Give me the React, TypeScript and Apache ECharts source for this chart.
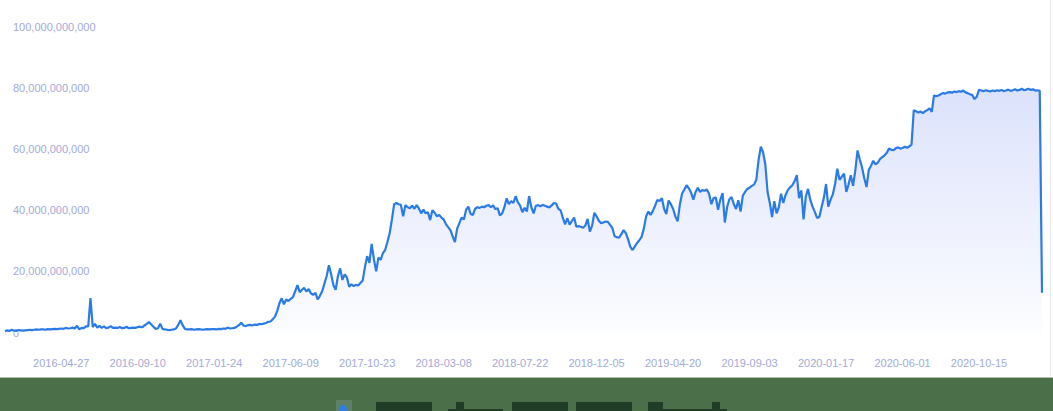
import React, { useEffect, useRef } from 'react';
import * as echarts from 'echarts';

// Daily series sampled every 4 days, starting 2016-01-18 (values in billions)
const START_DATE = '2016-01-18';
const STEP_DAYS = 4;
const LABEL_FIRST = 25; // 2016-04-27
const LABEL_EVERY = 34; // 136 days

const Y_MAX = 100e9;
const Y_STEP = 20e9;

const vals2016a = [0.4, 0.7, 0.5, 0.9, 0.6, 0.5, 0.8, 0.7, 0.6, 0.7, 0.8, 0.9, 0.8, 0.9, 1.0, 0.9, 1.0, 1.0, 0.9, 1.1, 1.0, 1.1, 1.2, 1.1, 1.2];
const vals2016b = [1.3, 1.2, 1.5, 1.3, 1.4, 1.6, 1.3, 2.2, 1.0, 1.5, 1.4, 2.0, 2.0, 11.3, 1.8, 2.8, 1.6, 2.2, 1.5, 2.0, 1.4, 1.6, 2.1, 1.5, 1.6, 1.5, 1.8, 1.4, 1.5, 1.9, 1.4, 1.5, 1.6, 1.5];
const vals2016c = [1.8, 1.9, 1.7, 2.3, 2.8, 3.4, 2.6, 1.9, 1.2, 1.4, 2.9, 1.2, 1.0, 0.9, 0.8, 0.9, 1.0, 1.3, 2.5, 4.0, 2.3, 1.2, 1.0, 1.0, 1.1, 0.9, 1.0, 1.1, 1.0, 0.9, 1.0, 1.1, 1.0, 1.1];
const vals2017a = [1.1, 1.0, 1.2, 1.1, 1.3, 1.2, 1.6, 1.3, 1.4, 1.5, 1.9, 2.4, 3.2, 2.3, 2.1, 2.4, 2.5, 2.3, 2.6, 2.5, 2.8, 2.7, 2.9, 3.1, 3.5, 3.6, 4.3, 5.2, 7.0, 9.6, 11.2, 9.2, 10.8, 10.3];
const vals2017b = [11.0, 11.6, 13.5, 15.5, 13.2, 14.0, 14.6, 13.4, 14.2, 12.8, 12.3, 13.0, 10.8, 12.0, 13.5, 16.0, 18.5, 22.0, 19.0, 15.5, 14.0, 18.5, 21.0, 17.2, 19.0, 18.0, 15.0, 15.8, 15.2, 15.6, 15.4, 16.2, 17.0, 21.4];
const vals2017c = [25.0, 22.8, 29.0, 24.0, 20.0, 24.5, 23.8, 26.0, 27.0, 29.6, 32.5, 37.0, 42.0, 42.4, 42.0, 41.8, 38.0, 41.7, 41.0, 40.7, 41.5, 40.5, 41.7, 40.6, 39.0, 40.2, 39.0, 39.4, 36.8, 40.0, 39.2, 38.0, 38.5, 37.6];
const vals2018a = [37.0, 35.5, 34.5, 33.5, 31.5, 29.6, 34.0, 35.8, 37.6, 37.0, 40.2, 41.2, 38.8, 38.5, 40.5, 41.0, 40.8, 41.2, 41.0, 41.5, 41.7, 41.0, 41.6, 40.4, 40.7, 38.3, 39.0, 41.0, 43.9, 42.0, 43.0, 42.4, 44.6, 42.6];
const vals2018b = [41.5, 39.4, 40.8, 39.6, 44.6, 41.0, 39.0, 41.5, 41.7, 41.3, 41.8, 41.5, 41.2, 40.9, 41.6, 42.4, 42.2, 40.5, 40.0, 37.5, 35.4, 37.4, 35.3, 36.5, 37.6, 34.6, 34.8, 34.6, 34.3, 35.0, 37.2, 33.0, 35.0, 39.2];
const vals2018c = [38.0, 36.6, 35.8, 36.0, 36.3, 36.2, 35.2, 34.2, 31.5, 31.2, 31.0, 32.2, 33.5, 32.5, 30.5, 28.0, 27.0, 28.2, 29.3, 30.2, 31.3, 34.0, 38.0, 39.6, 38.5, 39.8, 41.5, 43.4, 43.0, 44.0, 40.5, 38.8, 43.2, 42.0];
const vals2019a = [40.5, 38.0, 36.4, 41.8, 45.5, 46.8, 48.2, 47.2, 45.8, 43.5, 46.0, 47.4, 46.0, 46.6, 46.4, 46.8, 45.4, 42.0, 44.0, 44.2, 40.2, 43.5, 45.6, 36.0, 41.0, 43.6, 44.3, 42.0, 40.4, 43.3, 39.6, 44.8, 46.0, 47.0];
const vals2019b = [47.4, 48.0, 48.4, 50.0, 56.5, 60.8, 59.0, 55.0, 46.0, 42.4, 37.8, 43.0, 39.0, 41.0, 45.4, 42.4, 45.0, 46.6, 47.5, 48.2, 49.5, 51.5, 44.0, 46.5, 37.0, 44.5, 47.0, 43.4, 41.2, 39.5, 37.5, 37.8, 41.0, 44.0];
const vals2020a = [48.6, 41.2, 43.5, 45.2, 48.6, 53.6, 50.0, 51.0, 52.0, 46.0, 48.5, 51.5, 48.0, 53.0, 59.6, 56.6, 54.0, 50.5, 47.6, 53.2, 54.6, 56.2, 55.0, 55.6, 56.8, 57.4, 58.0, 58.8, 60.2, 59.8, 59.7, 60.3, 60.6, 60.2];
const vals2020b = [60.4, 60.8, 60.5, 60.9, 61.5, 72.8, 72.4, 72.0, 72.3, 71.8, 72.4, 72.8, 73.4, 72.2, 77.6, 77.3, 77.6, 78.0, 78.4, 78.2, 78.6, 78.7, 78.5, 78.9, 78.7, 79.0, 78.8, 79.2, 78.6, 78.3, 78.0, 77.7, 76.4, 77.2];
const vals2020c = [79.4, 79.2, 79.0, 79.3, 79.1, 78.9, 79.2, 79.0, 79.3, 79.1, 79.4, 79.0, 79.2, 79.5, 79.1, 79.3, 79.6, 79.2, 79.4, 79.8, 79.3, 79.5, 79.8, 79.4, 79.6, 79.2, 79.3, 79.1, 13.0];

const valuesBillions = [
  ...vals2016a, ...vals2016b, ...vals2016c,
  ...vals2017a, ...vals2017b, ...vals2017c,
  ...vals2018a, ...vals2018b, ...vals2018c,
  ...vals2019a, ...vals2019b,
  ...vals2020a, ...vals2020b, ...vals2020c,
];

function makeDates(n: number): string[] {
  const [y, m, d] = START_DATE.split('-').map(Number);
  const t0 = Date.UTC(y, m - 1, d);
  const out: string[] = [];
  for (let i = 0; i < n; i++) {
    out.push(new Date(t0 + i * STEP_DAYS * 86400000).toISOString().slice(0, 10));
  }
  return out;
}

export default function App() {
  const ref = useRef<HTMLDivElement>(null);

  useEffect(() => {
    if (!ref.current) return;
    const chart = echarts.init(ref.current, undefined, { renderer: 'svg' });
    const dates = makeDates(valuesBillions.length);
    const data = valuesBillions.map((v) => Math.round(v * 1e9));
    const labelColor = '#a3aad7';
    const font = "'Liberation Sans', Arial, sans-serif";

    chart.setOption({
      animation: false,
      backgroundColor: '#ffffff',
      grid: { left: 5, right: 11, top: 27, bottom: 78.5 },
      xAxis: {
        type: 'category',
        data: dates,
        boundaryGap: false,
        axisLine: { show: false },
        axisTick: { show: false },
        splitLine: { show: false },
        axisLabel: {
          color: labelColor,
          fontSize: 11,
          fontFamily: font,
          margin: 25,
          interval: (idx: number) => idx >= LABEL_FIRST && (idx - LABEL_FIRST) % LABEL_EVERY === 0,
        },
      },
      yAxis: {
        type: 'value',
        min: 0,
        max: Y_MAX,
        interval: Y_STEP,
        axisLine: { show: false },
        axisTick: { show: false },
        splitLine: { show: false },
        axisLabel: {
          inside: true,
          color: labelColor,
          fontSize: 11,
          fontFamily: font,
          formatter: (v: number) => v.toLocaleString('en-US'),
        },
      },
      series: [
        {
          type: 'line',
          data,
          showSymbol: false,
          symbol: 'none',
          lineStyle: { color: '#2b7be6', width: 2.2 },
          areaStyle: {
            color: new echarts.graphic.LinearGradient(0, 0, 0, 1, [
              { offset: 0, color: '#cdd6fa' },
              { offset: 1, color: '#fbfcff' },
            ]),
          },
          z: 2,
        },
      ],
      graphic: [
        {
          type: 'line',
          shape: { x1: 1050.5, y1: 0, x2: 1050.5, y2: 378 },
          style: { stroke: '#e8e8ee', lineWidth: 1 },
        },
        {
          type: 'rect',
          shape: { x: 0, y: 378, width: 1053, height: 33 },
          style: { fill: '#4b7049' },
          z: 10,
        },
        {
          type: 'rect',
          shape: { x: 0, y: 377, width: 1053, height: 1 },
          style: { fill: '#b3c0b0' },
          z: 10,
        },
        {
          type: 'rect',
          shape: { x: 336, y: 400, width: 16, height: 11 },
          style: { fill: '#5f7f66' },
          z: 11,
        },
        {
          type: 'circle',
          shape: { cx: 343, cy: 409, r: 4 },
          style: { fill: '#2d7de6' },
          z: 12,
        },
        { type: 'rect', shape: { x: 376, y: 402, width: 56, height: 9 }, style: { fill: '#213d27' }, z: 11 },
        { type: 'rect', shape: { x: 448, y: 409, width: 55, height: 2 }, style: { fill: '#213d27' }, z: 11 },
        { type: 'rect', shape: { x: 456, y: 402, width: 8, height: 9 }, style: { fill: '#213d27' }, z: 11 },
        { type: 'rect', shape: { x: 512, y: 402, width: 56, height: 9 }, style: { fill: '#213d27' }, z: 11 },
        { type: 'rect', shape: { x: 576, y: 402, width: 56, height: 9 }, style: { fill: '#213d27' }, z: 11 },
        { type: 'rect', shape: { x: 648, y: 402, width: 15, height: 9 }, style: { fill: '#213d27' }, z: 11 },
        { type: 'rect', shape: { x: 663, y: 409, width: 64, height: 2 }, style: { fill: '#213d27' }, z: 11 },
        { type: 'rect', shape: { x: 712, y: 402, width: 8, height: 9 }, style: { fill: '#213d27' }, z: 11 },
      ],
    });

    return () => {
      chart.dispose();
    };
  }, []);

  return (
    <div
      ref={ref}
      style={{ position: 'fixed', left: 0, top: 0, width: 1053, height: 411 }}
    />
  );
}
